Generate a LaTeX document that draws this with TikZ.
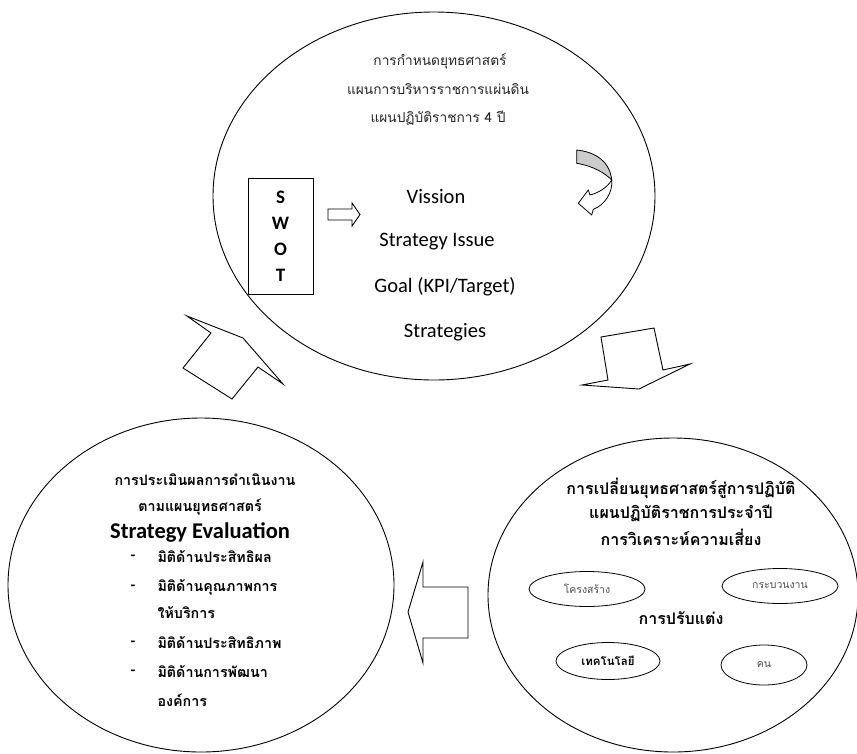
\documentclass[tikz,border=0pt]{standalone}
\usepackage{fontspec}
\setmainfont{Carlito}
\newfontfamily\thai[Script=Thai]{Loma}
\usetikzlibrary{shapes.geometric}
\begin{document}
\begin{tikzpicture}[x=1pt,y=-1pt,
  bigell/.style={draw,ellipse,inner sep=0pt,line width=0.9pt},
  smallell/.style={draw,ellipse,inner sep=0pt,line width=0.8pt},
  blockarrow/.style={draw,line width=0.9pt,fill=white,line join=miter},
  lat/.style={font=\fontsize{20.5}{24}\selectfont},
  thtop/.style={font=\thai\fontsize{13.7}{16}\selectfont,text=black!85},
  thb/.style={font=\thai\bfseries\fontsize{14.3}{16}\selectfont},
  thbr/.style={font=\thai\bfseries\fontsize{16}{18}\selectfont},
  thsmall/.style={font=\thai\fontsize{10.5}{12}\selectfont,text=black!70},
  thsmallb/.style={font=\thai\bfseries\fontsize{11.5}{12}\selectfont},
]
\useasboundingbox (0,0) rectangle (857,753);
% big ellipses
\node[bigell,minimum width=442pt,minimum height=368pt] (top) at (434,196) {};
\node[bigell,minimum width=386pt,minimum height=334pt] (left) at (201,585) {};
\node[bigell,minimum width=370pt,minimum height=314pt] (right) at (673,595) {};
% top ellipse content
\node[thtop] (t1) at (440,61) {การกำหนดยุทธศาสตร์};
\node[thtop] (t2) at (438,89) {แผนการบริหารราชการแผ่นดิน};
\node[thtop] (t3) at (438,118) {แผนปฏิบัติราชการ 4 ปี};
\node[draw,line width=0.9pt,minimum width=65pt,minimum height=116pt,inner sep=0pt,
      align=center,font=\bfseries\fontsize{19}{26}\selectfont] (swot) at (280.5,236) {S\\W\\O\\T};
\node[lat] (vis) at (436,197) {Vission};
\node[lat] (iss) at (437,242) {Strategy Issue};
\node[lat] (goal) at (445,287) {Goal (KPI/Target)};
\node[lat] (strat) at (445,332) {Strategies};
% small arrow SWOT -> Vission
\draw[blockarrow] (328,209) -- (352,209) -- (352,203) -- (360,214.5) -- (352,226) -- (352,220) -- (328,220) -- cycle;
% curved arrow
\draw[line width=0.8pt,fill=black!20] (576.7,150) .. controls (596,152) and (610,162) .. (611.7,180)
   .. controls (606,174) and (594,166) .. (576.7,163.3) -- cycle;
\draw[line width=0.8pt,fill=white] (611.7,180) .. controls (613,192) and (605,205) .. (593.3,209.3)
   -- (591.7,215) -- (578.3,203.3) -- (588.3,190) -- (590,195)
   .. controls (598,193) and (607,188) .. (611.7,180) -- cycle;
% block arrows
\draw[blockarrow] (243,338) -- (283,384) -- (258,367) -- (232,399) -- (183,368) -- (211,333) -- (187,316) -- cycle;
\draw[blockarrow] (601,337) -- (654,328) -- (663,370) -- (690,364) -- (639,389) -- (582,385) -- (608,380) -- cycle;
\draw[blockarrow] (408,612) -- (423,562) -- (423,587) -- (468,587) -- (468,638) -- (423,638) -- (423,663) -- cycle;
% left ellipse content
\node[thb] (l1) at (205,480) {การประเมินผลการดำเนินงาน};
\node[thb] (l2) at (200,507) {ตามแผนยุทธศาสตร์};
\node[font=\bfseries\fontsize{22.5}{26}\selectfont] (l3) at (200,532) {Strategy Evaluation};
\node[thb] (d1) at (133,557) {-};
\node[thb,anchor=west] (i1) at (154,557) {มิติด้านประสิทธิผล};
\node[thb] (d2) at (133,587) {-};
\node[thb,anchor=west] (i2) at (154,587) {มิติด้านคุณภาพการ};
\node[thb,anchor=west] (i3) at (154,613) {ให้บริการ};
\node[thb] (d4) at (133,643) {-};
\node[thb,anchor=west] (i4) at (154,643) {มิติด้านประสิทธิภาพ};
\node[thb] (d5) at (133,672) {-};
\node[thb,anchor=west] (i5) at (154,672) {มิติด้านการพัฒนา};
\node[thb,anchor=west] (i6) at (154,700) {องค์การ};
% right ellipse content
\node[thbr] (r1) at (681,488) {การเปลี่ยนยุทธศาสตร์สู่การปฏิบัติ};
\node[thbr] (r2) at (681,513) {แผนปฏิบัติราชการประจำปี};
\node[thbr] (r3) at (681,537) {การวิเคราะห์ความเสี่ยง};
\node[thbr] (r4) at (681,618) {การปรับแต่ง};
\node[smallell,minimum width=116pt,minimum height=35pt,thsmall] (e1) at (587,589) {โครงสร้าง};
\node[smallell,minimum width=116pt,minimum height=35pt,thsmall] (e2) at (780,586) {กระบวนงาน};
\node[smallell,minimum width=104pt,minimum height=37pt,thsmallb] (e3) at (608,661) {เทคโนโลยี};
\node[smallell,minimum width=86pt,minimum height=40pt,thsmall] (e4) at (764,665) {คน};
\end{tikzpicture}
\end{document}
